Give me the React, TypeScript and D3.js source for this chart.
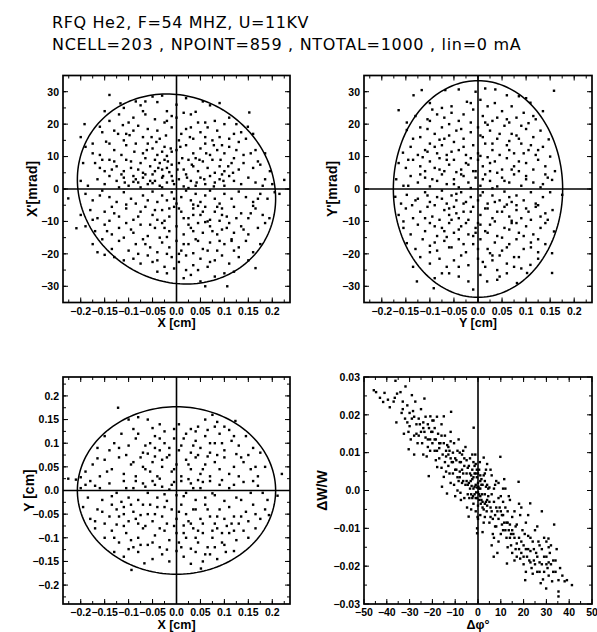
import React from "react";
import * as d3 from "d3";

// header
const title1 = "RFQ He2, F=54 MHZ, U=11KV";
const title2 = "NCELL=203 , NPOINT=859 , NTOTAL=1000 , lin=0 mA";

// tick values / labels
const cmTicks = [-0.2, -0.15, -0.1, -0.05, 0, 0.05, 0.1, 0.15, 0.2];
const cmLabels = ["−0.2", "−0.15", "−0.1", "−0.05", "0.0", "0.05", "0.1", "0.15", "0.2"];
const mradTicks = [-30, -20, -10, 0, 10, 20, 30];
const mradLabels = ["−30", "−20", "−10", "0", "10", "20", "30"];
const phaseTicks = [-50, -40, -30, -20, -10, 0, 10, 20, 30, 40, 50];
const phaseLabels = ["−50", "−40", "−30", "−20", "−10", "0", "10", "20", "30", "40", "50"];
const dwTicks = [-0.03, -0.02, -0.01, 0, 0.01, 0.02, 0.03];
const dwLabels = ["−0.03", "−0.02", "−0.01", "0.0", "0.01", "0.02", "0.03"];

// emittance ellipses: half-width, half-height, correlation
const xxpEllipse = { a: 0.207, b: 29.3, r: -0.1 };
const yypEllipse = { a: 0.176, b: 33.4, r: 0 };
const xyEllipse = { a: 0.207, b: 0.177, r: 0 };

// X - X' (cm, mrad)
const xxpPoints: [number, number][] = [
  [-0.14, 29], [-0.05, 28.5], [-0.03, 28.8], [-0.04, 26.8], [-0.065, 27], [0.07, 25.8], [0.04, 23.8], [0.015, 23.5],
  [-0.117, 26.4], [-0.075, 25.8], [0.09, 26.5], [0.055, 27],
  [-0.07, 24], [-0.065, 23], [-0.01, 22.5], [-0.02, 21], [0, 22], [-0.025, 20.5], [0.03, 23], [0.08, 21], [0.1, 20],
  [0.125, 20], [0.152, 23.6], [-0.1, 20.5], [-0.112, 19.7], [-0.192, 20], [-0.16, 19.2], [-0.14, 21], [-0.12, 23],
  [-0.15, 24], [0.06, 20.5], [0.11, 22], [-0.045, 21.5], [-0.09, 22],
  [-0.2, 16], [-0.13, 18], [-0.122, 17], [-0.098, 16.6], [-0.09, 18], [-0.06, 18.5], [-0.035, 15.5], [-0.01, 19],
  [0.01, 17], [0.02, 18.5], [0.05, 17.5], [0.065, 19], [0.09, 16], [0.12, 17], [0.149, 19.2], [0.145, 15.5], [0.16, 17],
  [-0.155, 17.5], [-0.07, 16], [0.035, 15.5], [0.075, 15], [-0.11, 15], [0.13, 14.5], [0.005, 15], [-0.04, 18],
  [-0.19, 13], [-0.175, 11], [-0.147, 14.6], [-0.13, 12], [-0.105, 13.5], [-0.085, 14], [-0.07, 11], [-0.05, 12.5],
  [-0.04, 10.5], [-0.025, 13], [-0.01, 11.5], [0, 12], [0.02, 13.5], [0.035, 11], [0.05, 12.5], [0.07, 10.5],
  [0.085, 12], [0.1, 11], [0.11, 13], [0.125, 12], [0.14, 10.5], [0.165, 12], [0.185, 11], [-0.16, 10.5],
  [-0.115, 10.5], [-0.06, 14], [0.06, 14], [0.095, 13.5], [-0.02, 10.2],
  [-0.195, 8], [-0.17, 8], [-0.16, 6.5], [-0.14, 9], [-0.125, 7], [-0.11, 5.5], [-0.095, 8.5], [-0.08, 6],
  [-0.065, 9.5], [-0.055, 7], [-0.045, 5.5], [-0.035, 8], [-0.025, 9], [-0.02, 6.5], [-0.01, 7.5], [0.005, 8],
  [0.015, 6], [0.025, 9], [0.035, 7], [0.045, 5.5], [0.055, 8.5], [0.065, 6.5], [0.075, 9], [0.09, 7], [0.1, 5.5],
  [0.115, 8], [0.13, 6], [0.14, 8], [0.16, 6.5], [0.175, 7.5], [0.195, 5.5], [-0.03, 6], [-0.015, 5.2], [0.04, 9.5],
  [0.08, 5], [-0.07, 5], [-0.15, 5.5], [0.12, 9.5],
  [-0.2, 2.5], [-0.185, 1], [-0.165, 3], [-0.15, 1.5], [-0.14, 4], [-0.125, 2.5], [-0.11, 3.5], [-0.1, 1], [-0.09, 4],
  [-0.08, 2], [-0.07, 3.5], [-0.06, 1.5], [-0.05, 4.5], [-0.045, 2.5], [-0.035, 1], [-0.03, 3.5], [-0.02, 2],
  [-0.01, 4], [-0.005, 1.5], [0.005, 3], [0.015, 0.8], [0.02, 4.5], [0.03, 2.5], [0.04, 1], [0.05, 3.5], [0.06, 1.5],
  [0.07, 4], [0.08, 2], [0.09, 3], [0.1, 1], [0.11, 4], [0.12, 2.5], [0.135, 1.5], [0.15, 3.5], [0.165, 2], [0.18, 1],
  [0.2, 1.5], [0.225, 2.8], [-0.075, 0.5], [0.025, 0.3], [-0.12, 0.5], [0.095, 4.5],
  [-0.226, -2.9], [-0.19, -1.5], [-0.175, -3.5], [-0.155, -0.5], [-0.14, -2.5], [-0.125, -4], [-0.11, -1],
  [-0.095, -3], [-0.085, -4.5], [-0.07, -2], [-0.06, -3.5], [-0.05, -0.8], [-0.04, -4], [-0.03, -2], [-0.02, -3.5],
  [-0.01, -1], [0, -4.5], [0.01, -2.5], [0.02, -0.5], [0.03, -3.5], [0.04, -1.5], [0.05, -4], [0.06, -2], [0.07, -0.5],
  [0.08, -3], [0.09, -4.5], [0.1, -1.5], [0.115, -3], [0.13, -0.8], [0.145, -2.5], [0.16, -4], [0.175, -1.5],
  [0.19, -3], [0.205, -1], [0.215, -1.5], [-0.105, -4.8], [0.035, -4.8],
  [-0.2, -8], [-0.18, -6.5], [-0.165, -9], [-0.15, -7], [-0.135, -5.5], [-0.12, -8.5], [-0.105, -6], [-0.09, -9.5],
  [-0.075, -7], [-0.065, -5.5], [-0.05, -8], [-0.04, -9.5], [-0.03, -6.5], [-0.015, -8.5], [-0.005, -5.5], [0.01, -7],
  [0.025, -9], [0.035, -6], [0.05, -8], [0.06, -5.5], [0.07, -9.5], [0.08, -7], [0.095, -6], [0.105, -8.5],
  [0.12, -5.5], [0.135, -7.5], [0.15, -9], [0.165, -6], [0.18, -8], [0.194, -9], [0.16, -5.2], [-0.025, -9.8],
  [0.045, -5.2], [-0.14, -9.8], [0.09, -9.8],
  [-0.209, -12.1], [-0.19, -11.5], [-0.17, -13], [-0.15, -11], [-0.135, -14], [-0.12, -12], [-0.105, -10.5],
  [-0.09, -13.5], [-0.075, -11], [-0.06, -14.5], [-0.045, -12], [-0.03, -10.5], [-0.015, -13], [0, -11.5],
  [0.015, -14], [0.03, -12], [0.045, -10.5], [0.055, -13.5], [0.07, -11.5], [0.085, -14], [0.095, -12.5],
  [0.11, -10.5], [0.12, -13.5], [0.135, -11.5], [0.15, -14], [0.17, -12], [0.185, -10.5], [-0.02, -14.8], [0.06, -10.2],
  [-0.175, -17], [-0.155, -15.5], [-0.135, -18.5], [-0.12, -16], [-0.1, -19], [-0.085, -17], [-0.07, -15.5],
  [-0.055, -18], [-0.04, -19.5], [-0.03, -16.5], [-0.015, -18], [0, -16], [0.01, -19], [0.025, -17], [0.04, -15.5],
  [0.055, -18.5], [0.07, -16.5], [0.085, -19], [0.1, -17], [0.115, -15.5], [0.13, -18], [0.145, -16], [0.16, -19.5],
  [0.175, -17], [-0.165, -19.5], [0.035, -19.8], [-0.08, -20],
  [-0.13, -21], [-0.11, -22], [-0.09, -21.5], [-0.075, -23], [-0.06, -20.5], [-0.04, -22], [-0.025, -24], [-0.01, -21],
  [0.005, -22.5], [0.02, -20.5], [0.035, -23.5], [0.05, -21.5], [0.065, -24], [0.08, -22], [0.095, -20.5], [0.11, -23],
  [0.13, -21], [0.15, -22], [0.165, -24.4], [-0.15, -20.3], [0.045, -25], [-0.005, -24.5],
  [-0.02, -26], [0.015, -27.5], [0.03, -26.5], [0.06, -30], [0.106, -30], [0.08, -27], [0.1, -26], [0.05, -28.5],
  [0.12, -25.5], [-0.04, -25.5],
  [-0.095, 6.5], [-0.085, 3], [-0.075, 8], [-0.065, 4.5], [-0.055, 2.5], [-0.045, 9], [-0.038, 6.5], [-0.028, 4],
  [-0.018, 8.5], [-0.008, 2.5], [0.002, 6], [0.012, 9.5], [0.022, 3.5], [0.032, 7.5], [0.042, 2], [-0.105, 9],
  [-0.115, 4.5], [-0.13, 8.5], [-0.088, 11.5], [-0.062, 12], [-0.042, 14.5], [-0.022, 16.5], [-0.012, 12.5],
  [0.008, 13], [0.028, 16], [0.048, 9], [0.062, 11], [0.078, 13.5], [0.092, 9], [0.108, 7], [0.058, 3], [0.078, 0.8],
  [0.098, 2.5], [0.118, 5], [-0.03, 0.5], [-0.05, 1.8], [-0.09, 2.2], [-0.108, 2], [-0.135, 6], [-0.155, 9],
  [-0.005, -3], [0.005, -6], [0.015, -9], [0.025, -11], [0.035, -13], [0.045, -16], [0.055, -7], [0.065, -10],
  [0.075, -13], [0.085, -5.5], [0.095, -8], [0.105, -12], [0.115, -16], [0.125, -9], [0.14, -12.5], [0.155, -7.5],
  [0.17, -3], [0.035, -8], [0.015, -17], [0.005, -20], [0.065, -19], [0.09, -16], [0.12, -19], [-0.015, -6],
  [-0.025, -12], [-0.035, -15], [-0.045, -6.5], [-0.055, -11], [-0.065, -17], [-0.08, -8.5], [-0.095, -12.5],
  [-0.11, -15], [-0.13, -7.5], [-0.145, -13], [-0.16, -2], [-0.175, -9.5], [-0.02, -20], [0.02, -25], [0.07, -22.5],
  [-0.05, -22.5], [-0.03, 11.5], [-0.052, 16], [-0.08, 19.5], [-0.105, 17], [-0.14, 14], [-0.175, 14], [0.03, 19],
  [0.06, 16], [0.085, 18], [0.11, 15.5], [0.135, 17.5], [0.155, 11], [0.17, 8.5], [0.185, 3], [-0.02, 24], [0, 26],
  [0.045, 20.5], [-0.11, 25], [-0.085, 27], [0.02, 28],
];

// Y - Y' (cm, mrad)
const yypPoints: [number, number][] = [
  [-0.134, 28.9], [-0.117, 30.5], [-0.068, 30.5], [-0.04, 30.7], [0.015, 31], [0.036, 30.7], [0.06, 28.9], [0.085, 28.6],
  [0.109, 26.6], [0.158, 30.3], [-0.023, 26.9], [-0.015, 26.5], [-0.165, 24.3], [-0.1, 26.5], [0.005, 27.5], [0.02, 25.5],
  [0.07, 25.5], [-0.055, 25.5], [-0.005, 30], [0.1, 28],
  [-0.13, 22.5], [-0.105, 21.5], [-0.085, 23], [-0.07, 22], [-0.055, 23.5], [-0.04, 21], [-0.03, 23], [-0.015, 20.5],
  [0.01, 22.5], [0.03, 21], [0.05, 24], [0.065, 20.5], [0.08, 22], [0.095, 23.5], [0.12, 21.5], [0.135, 24],
  [-0.148, 20.5], [0.04, 22], [-0.095, 24.5], [0.105, 20.3],
  [-0.148, 18.2], [-0.12, 16], [-0.105, 18.5], [-0.09, 17], [-0.075, 19], [-0.06, 16.5], [-0.045, 18], [-0.03, 15.5],
  [-0.015, 17.5], [0, 19], [0.01, 16], [0.025, 18], [0.04, 15.5], [0.055, 19.5], [0.07, 17], [0.085, 15.5], [0.1, 18.5],
  [0.115, 16], [0.147, 15.3], [0.13, 18], [-0.135, 15.5], [0.02, 19.8], [-0.08, 15.2],
  [-0.156, 11.2], [-0.14, 13], [-0.125, 10.5], [-0.11, 12], [-0.1, 14], [-0.085, 11], [-0.075, 13.5], [-0.065, 10.5],
  [-0.05, 14.5], [-0.04, 12], [-0.025, 10.5], [-0.01, 13.5], [0, 11], [0.015, 14], [0.03, 12], [0.045, 10.5],
  [0.06, 13.5], [0.075, 11], [0.09, 14], [0.105, 12], [0.12, 10.5], [0.135, 13], [0.15, 10], [-0.115, 9.8],
  [0.005, 10.2], [0.065, 14.8],
  [-0.165, 8], [-0.15, 6.5], [-0.135, 9], [-0.12, 7], [-0.11, 5.5], [-0.1, 8.5], [-0.09, 6.5], [-0.08, 9.5], [-0.07, 5.5],
  [-0.06, 7.5], [-0.05, 9], [-0.035, 6], [-0.025, 8], [-0.01, 5.5], [0, 9], [0.01, 7], [0.025, 5.5], [0.035, 8.5],
  [0.05, 6], [0.06, 9.5], [0.075, 7], [0.085, 5.5], [0.1, 8], [0.115, 6], [0.125, 9], [0.14, 7], [0.16, 5.5],
  [-0.045, 5.2], [0.02, 9.8],
  [-0.17, 3], [-0.155, 1], [-0.14, 4], [-0.125, 2], [-0.11, 3.5], [-0.1, 0.8], [-0.085, 2.5], [-0.075, 4.5],
  [-0.065, 1.5], [-0.05, 3], [-0.04, 0.5], [-0.03, 4], [-0.02, 2], [-0.005, 3.5], [0.005, 1], [0.015, 4.5], [0.025, 2.5],
  [0.04, 0.8], [0.05, 3.5], [0.065, 2], [0.075, 4.5], [0.09, 1], [0.1, 3], [0.115, 2], [0.13, 0.5], [0.145, 3.5],
  [0.154, 2.8], [0.135, 1.5], [-0.015, 0.3], [0.03, 0.2],
  [-0.172, -2.4], [-0.148, -1.8], [-0.137, -5], [-0.125, -3], [-0.11, -1], [-0.1, -4], [-0.085, -2.5], [-0.075, -0.5],
  [-0.065, -4.5], [-0.055, -2], [-0.045, -3.5], [-0.035, -1], [-0.025, -4], [-0.015, -2.5], [0, -3.5], [0.01, -1],
  [0.02, -4.5], [0.03, -2], [0.045, -3.5], [0.055, -0.8], [0.07, -4], [0.08, -2], [0.095, -3.5], [0.11, -1],
  [0.12, -4.5], [0.135, -2.5], [0.15, -1], [0.175, -1.8], [-0.16, -4.5], [0.06, -4.8],
  [-0.165, -8], [-0.15, -6], [-0.135, -9], [-0.12, -7], [-0.105, -5.5], [-0.095, -8.5], [-0.08, -9.5], [-0.07, -6.5],
  [-0.06, -8], [-0.05, -5.5], [-0.04, -9], [-0.03, -7], [-0.02, -9.5], [-0.01, -5.5], [0.005, -8], [0.015, -6],
  [0.03, -9], [0.04, -7], [0.055, -5.5], [0.065, -8.5], [0.08, -6.5], [0.09, -9], [0.105, -7], [0.12, -5.5],
  [0.13, -8.5], [0.145, -9.5], [0.155, -6.5], [-0.045, -7.5], [0.07, -9.8],
  [-0.155, -12], [-0.14, -14], [-0.125, -11], [-0.11, -13], [-0.1, -10.5], [-0.085, -14.5], [-0.075, -12], [-0.06, -10.5],
  [-0.05, -13.5], [-0.035, -11.5], [-0.02, -14], [-0.005, -12], [0, -10.5], [0.015, -13], [0.025, -11], [0.04, -14.5],
  [0.055, -12], [0.07, -10.5], [0.085, -13.5], [0.1, -11.5], [0.115, -14], [0.13, -12], [0.158, -13.1], [0.14, -10.5],
  [-0.005, -13.5], [-0.065, -14.8],
  [-0.148, -16.7], [-0.13, -18.5], [-0.115, -15.5], [-0.1, -17.5], [-0.085, -19], [-0.07, -16], [-0.055, -18],
  [-0.04, -15.5], [-0.025, -19.5], [-0.01, -17], [0.005, -15.5], [0.02, -18.5], [0.035, -16.5], [0.05, -19], [0.065, -17],
  [0.08, -15.5], [0.095, -18.5], [0.11, -16.5], [0.125, -19.5], [0.154, -19.8], [0.14, -17], [0.025, -19.8],
  [-0.12, -21], [-0.1, -23], [-0.08, -21.5], [-0.065, -24], [-0.05, -22], [-0.035, -20.5], [-0.02, -23.5], [0, -21.5],
  [0.015, -24], [0.03, -22], [0.045, -20.5], [0.06, -23], [0.075, -21], [0.09, -24.5], [0.109, -23.4], [0.125, -21.5],
  [-0.135, -24], [0.154, -25.9], [0.102, -25.9],
  [-0.092, -30.6], [-0.127, -28.5], [-0.04, -27], [-0.02, -28.5], [0.019, -28.5], [0.04, -28], [0.081, -29], [-0.06, -26],
  [0.005, -26.5], [0.06, -26], [-0.09, -27.5], [-0.01, -31],
  [-0.095, 3], [-0.08, 6], [-0.065, 9], [-0.05, 1.5], [-0.035, 4.5], [-0.02, 7.5], [-0.005, 5.5], [0.01, 3], [0.025, 8],
  [0.04, 5], [0.055, 2.5], [0.07, 6], [0.085, 8.5], [0.1, 4], [-0.105, 11.5], [-0.09, 13], [-0.07, 15.5], [-0.055, 11.5],
  [-0.03, 13], [-0.015, 9.5], [0.005, 16.5], [0.03, 14], [0.045, 17], [0.065, 12], [0.08, 16.5], [0.095, 11],
  [0.11, 13.5], [-0.12, 19], [-0.1, 21], [-0.06, 20], [-0.035, 18.5], [0.015, 20.5], [0.06, 21.5], [0.09, 19.5],
  [-0.12, 4.5], [-0.13, -3.5], [-0.105, -2], [-0.09, -5], [-0.075, -3], [-0.06, -6], [-0.045, -1.5], [-0.03, -4.5],
  [-0.015, -7], [0.005, -2], [0.02, -6], [0.035, -4], [0.05, -7], [0.065, -2.5], [0.08, -5], [0.1, -6], [-0.11, -9],
  [-0.09, -11.5], [-0.07, -13], [-0.055, -9.5], [-0.04, -12.5], [-0.025, -10.5], [-0.01, -14.5], [0.005, -11],
  [0.02, -13.5], [0.035, -10], [0.05, -15], [0.065, -12.5], [0.08, -10.5], [0.095, -14.5], [0.11, -9.5], [0.125, -15.5],
  [-0.09, -16.5], [-0.06, -18], [-0.03, -17], [0, -18.5], [0.03, -20.5], [0.06, -18], [0.085, -21], [-0.1, -19.5],
  [-0.04, -24], [0.01, -22.5], [0.04, -25], [0.075, -24], [0.11, -18], [0.125, -5], [0.14, -7.5], [0.14, 4.5],
  [0.125, 12], [-0.145, 9], [-0.155, -10], [-0.145, 1], [0.115, 22.5], [-0.075, 25], [-0.01, 24.5], [0.035, 26.5],
  [0.045, -27], [-0.075, -26],
];

// X - Y (cm, cm)
const xyPoints: [number, number][] = [
  [-0.122, 0.175], [-0.08, 0.155], [-0.06, 0.15], [-0.035, 0.14], [-0.025, 0.125], [-0.005, 0.13], [0.03, 0.13],
  [0.045, 0.135], [0.06, 0.15], [0.075, 0.16], [0.085, 0.145], [0.1, 0.135], [0.123, 0.147], [-0.1, 0.15],
  [-0.05, 0.132], [0.065, 0.128], [0.11, 0.128], [-0.09, 0.13],
  [-0.15, 0.115], [-0.13, 0.1], [-0.115, 0.12], [-0.1, 0.095], [-0.085, 0.11], [-0.07, 0.08], [-0.055, 0.1],
  [-0.045, 0.115], [-0.035, 0.085], [-0.025, 0.1], [-0.015, 0.075], [-0.005, 0.11], [0.01, 0.095], [0.02, 0.12],
  [0.03, 0.08], [0.04, 0.105], [0.05, 0.09], [0.06, 0.115], [0.07, 0.08], [0.08, 0.1], [0.09, 0.12], [0.1, 0.085],
  [0.115, 0.105], [0.13, 0.095], [0.145, 0.115], [0.16, 0.09], [-0.14, 0.085], [-0.165, 0.09], [0.175, 0.08],
  [-0.06, 0.078], [0.005, 0.085], [0.125, 0.077],
  [-0.19, 0.04], [-0.175, 0.055], [-0.16, 0.03], [-0.15, 0.065], [-0.135, 0.045], [-0.12, 0.07], [-0.11, 0.035],
  [-0.095, 0.055], [-0.085, 0.03], [-0.075, 0.07], [-0.065, 0.045], [-0.05, 0.06], [-0.04, 0.03], [-0.03, 0.05],
  [-0.02, 0.07], [-0.01, 0.04], [0, 0.055], [0.01, 0.03], [0.02, 0.065], [0.03, 0.045], [0.04, 0.07], [0.05, 0.035],
  [0.06, 0.055], [0.07, 0.03], [0.08, 0.06], [0.09, 0.045], [0.1, 0.07], [0.11, 0.035], [0.12, 0.05], [0.13, 0.03],
  [0.14, 0.06], [0.155, 0.045], [0.17, 0.03], [0.185, 0.05], [0.22, 0.035], [-0.2, 0.028], [-0.045, 0.072],
  [0.065, 0.072],
  [-0.226, 0.025], [-0.21, 0.023], [-0.2, 0.005], [-0.185, -0.015], [-0.17, 0.01], [-0.155, -0.02], [-0.14, 0.015],
  [-0.125, -0.005], [-0.11, 0.02], [-0.1, -0.015], [-0.09, 0.005], [-0.08, -0.02], [-0.07, 0.015], [-0.06, -0.005],
  [-0.05, 0.02], [-0.04, -0.015], [-0.03, 0.008], [-0.02, -0.022], [-0.01, 0.012], [0, -0.01], [0.01, 0.02],
  [0.02, -0.005], [0.03, 0.015], [0.04, -0.02], [0.05, 0.005], [0.06, -0.015], [0.07, 0.02], [0.08, -0.01],
  [0.09, 0.012], [0.1, -0.022], [0.11, 0.005], [0.125, -0.015], [0.14, 0.018], [0.155, -0.005], [0.17, 0.01],
  [0.19, -0.02], [0.211, -0.011], [-0.015, 0.002], [0.045, 0.022], [-0.115, -0.024],
  [-0.195, -0.035], [-0.18, -0.06], [-0.165, -0.04], [-0.15, -0.07], [-0.135, -0.03], [-0.12, -0.055], [-0.11, -0.035],
  [-0.1, -0.065], [-0.09, -0.045], [-0.08, -0.07], [-0.07, -0.03], [-0.06, -0.05], [-0.05, -0.065], [-0.04, -0.035],
  [-0.03, -0.055], [-0.02, -0.07], [-0.01, -0.04], [0, -0.06], [0.01, -0.03], [0.02, -0.05], [0.03, -0.07],
  [0.04, -0.04], [0.05, -0.06], [0.06, -0.03], [0.07, -0.055], [0.08, -0.07], [0.09, -0.04], [0.1, -0.06],
  [0.11, -0.035], [0.12, -0.055], [0.13, -0.07], [0.145, -0.045], [0.16, -0.03], [0.175, -0.06], [0.193, -0.052],
  [0.185, -0.04], [-0.125, -0.072], [0.015, -0.074], [-0.075, -0.052],
  [-0.17, -0.08], [-0.15, -0.1], [-0.135, -0.085], [-0.12, -0.11], [-0.105, -0.09], [-0.09, -0.12], [-0.08, -0.1],
  [-0.07, -0.08], [-0.06, -0.115], [-0.045, -0.095], [-0.035, -0.12], [-0.025, -0.085], [-0.015, -0.105], [0, -0.09],
  [0.01, -0.12], [0.02, -0.1], [0.035, -0.08], [0.045, -0.11], [0.055, -0.09], [0.065, -0.12], [0.075, -0.1],
  [0.085, -0.08], [0.095, -0.11], [0.11, -0.09], [0.125, -0.105], [0.14, -0.085], [0.15, -0.1], [0.165, -0.08],
  [-0.1, -0.124], [0.03, -0.123],
  [-0.094, -0.168], [-0.067, -0.154], [-0.11, -0.14], [-0.08, -0.13], [-0.05, -0.145], [-0.03, -0.135], [-0.015, -0.15],
  [0.015, -0.14], [0.03, -0.155], [0.051, -0.165], [0.055, -0.15], [0.07, -0.135], [0.085, -0.145], [0.103, -0.13],
  [0.12, -0.128], [-0.13, -0.13], [0, -0.128], [0.04, -0.13],
  [-0.09, 0.06], [-0.07, 0.05], [-0.055, 0.04], [-0.045, 0.09], [-0.03, 0.065], [-0.015, 0.09], [-0.005, 0.045],
  [0.015, 0.11], [0.025, 0.055], [0.035, 0.095], [0.045, 0.075], [0.055, 0.045], [0.07, 0.1], [0.085, 0.075],
  [0.095, 0.1], [-0.12, 0.09], [-0.105, 0.075], [-0.08, 0.12], [-0.065, 0.095], [-0.035, 0.11], [0.005, 0.14],
  [0.04, 0.125], [0.08, 0.135], [0.12, 0.115], [0.135, 0.07], [0.15, 0.075], [0.165, 0.05], [-0.145, 0.04],
  [-0.165, 0.068], [-0.18, 0.02],
  [-0.095, -0.03], [-0.085, -0.06], [-0.065, -0.075], [-0.055, -0.03], [-0.045, -0.05], [-0.035, -0.08],
  [-0.025, -0.035], [-0.005, -0.075], [0.005, -0.045], [0.015, -0.09], [0.025, -0.065], [0.035, -0.04], [0.045, -0.085],
  [0.055, -0.07], [0.065, -0.04], [0.075, -0.085], [0.085, -0.055], [0.095, -0.09], [0.105, -0.075], [0.12, -0.085],
  [0.135, -0.055], [0.15, -0.065], [0.165, -0.05], [-0.11, -0.05], [-0.125, -0.04], [-0.14, -0.055], [-0.155, -0.045],
  [-0.17, -0.065], [-0.13, -0.1], [-0.11, -0.075], [-0.095, -0.105], [-0.075, -0.115], [-0.05, -0.11], [-0.02, -0.125],
  [0.005, -0.11], [0.04, -0.1], [0.06, -0.135], [0.08, -0.12], [0.1, -0.115], [0.115, -0.07],
  [-0.065, 0.008], [-0.045, 0.012], [-0.025, -0.008], [-0.005, 0.018], [0.015, -0.012], [0.035, 0.005], [0.055, 0.018],
  [0.075, -0.006], [0.095, 0.022], [-0.085, 0.02], [-0.105, 0.005], [-0.135, -0.012], [0.12, 0.012], [0.135, -0.02],
  [0.16, 0.02], [-0.16, 0.005], [-0.19, 0.012], [0.18, -0.005], [-0.035, 0.025], [0.025, 0.024],
];

// dPhi - dW/W (deg, -)
const phwPoints: [number, number][] = [
  [-45.7, 0.0265], [-44.7, 0.026], [-41, 0.0258], [-41.6, 0.0234], [-38.7, 0.022], [-36.2, 0.029], [-35.8, 0.018],
  [-37, 0.0235], [-39.5, 0.024], [-36.5, 0.0245], [-35.5, 0.0256], [-43, 0.0245],
  [-34, 0.026], [-31.8, 0.0275], [-33, 0.0215], [-30.4, 0.0109], [-29, 0.0252], [-32, 0.019], [-30, 0.017], [-28, 0.0195],
  [-27, 0.015], [-26, 0.019], [-31, 0.0225], [-33.5, 0.0205], [-29.5, 0.0135], [-28.5, 0.021], [-26.5, 0.0125],
  [-25.5, 0.0175], [-27.5, 0.0235], [-30.5, 0.0155], [-25, 0.0215], [-28, 0.0095], [-32.5, 0.015], [-26, 0.0145],
  [-23.5, 0.0243], [-24, 0.018], [-23, 0.0195], [-22, 0.0135], [-21.5, 0.0165], [-20.9, 0.0196], [-20, 0.0125],
  [-19.5, 0.0185], [-19, 0.0105], [-18, 0.0195], [-17.5, 0.015], [-17, 0.0085], [-16.5, 0.0125], [-16, 0.0175],
  [-15.5, 0.0095], [-15, 0.0196], [-24.5, 0.0125], [-22.5, 0.009], [-21, 0.0105], [-20.5, 0.0155], [-18.5, 0.0135],
  [-17.9, 0.0062], [-21.6, 0.0038], [-15.8, 0.001], [-15, 0.0036], [-23.5, 0.0155], [-19, 0.0165], [-16, 0.006],
  [-22, 0.0115], [-18.5, 0.008], [-24, 0.0095], [-20, 0.0185], [-17, 0.0112],
  [-14.5, 0.0145], [-14, 0.009], [-13.5, 0.012], [-13, 0.0065], [-12.5, 0.0105], [-11.8, 0.0208], [-12, 0.0155],
  [-11.5, 0.0075], [-11, 0.0045], [-10.5, 0.0125], [-10, 0.0085], [-9.5, 0.0055], [-9, 0.0105], [-8.5, 0.0135],
  [-8, 0.0035], [-7.7, -0.0006], [-7.5, 0.0075], [-7, 0.0095], [-6.5, 0.0025], [-6, 0.0065], [-5.5, 0.0115],
  [-5, 0.0045], [-13.6, -0.0008], [-12, 0.002], [-10.5, 0.0015], [-9, 0], [-6, -0.002], [-14, 0.005], [-8, 0.0075],
  [-11, 0.01], [-7, 0.0055], [-5.5, 0.0015], [-9.5, 0.008], [-13, 0.0095], [-6.5, 0.0105], [-12.5, 0.0045],
  [-10, -0.0015], [-8.5, 0.0025], [-5, 0.008], [-7.5, -0.0025], [-14.5, 0.0075],
  [-4.5, 0.006], [-4, 0.002], [-3.5, 0.0045], [-3, -0.001], [-2.5, 0.003], [-2, 0.0075], [-1.9, 0.0166], [-1.5, 0.001],
  [-1, 0.0045], [-0.5, -0.002], [0, 0.002], [0.5, 0.0005], [1, -0.0015], [1.5, 0.003], [2, -0.003], [2.5, 0.0087],
  [3, -0.001], [3.5, 0.001], [4, -0.004], [4.5, 0.0005], [-4.1, -0.0069], [-0.4, -0.01], [-0.4, -0.0113], [-3, -0.005],
  [-2, -0.0035], [-1, -0.0055], [0, -0.004], [1, -0.0065], [2, -0.0045], [3, -0.007], [4, -0.0025], [-4.5, 0.0015],
  [-3.5, 0.0085], [-2.5, 0.0055], [-1.5, 0.0065], [-0.5, 0.0035], [0.5, 0.0055], [1.5, 0.0015], [2.5, 0.004],
  [3.5, 0.0055], [4.5, -0.0015], [-2, 0.0005], [-1, 0.0015], [0, -0.0005], [1, 0.0005], [-1.5, -0.001], [0.5, -0.0025],
  [-0.5, 0.0008], [0.2, 0.001], [-0.8, -0.0005], [-2.8, 0.0012], [1.8, -0.001], [3, 0.0025], [-3.8, -0.002], [4, 0.007],
  [5, 0.0008], [-4.8, -0.0045], [2.5, -0.0085], [-1.2, 0.0095], [0.8, 0.0075], [3.8, -0.0055], [-3.2, 0.0025],
  [-0.2, -0.007], [1.2, -0.0035], [-2.2, -0.0015],
  [5.5, -0.0045], [6, -0.001], [6.5, -0.0075], [6.9, -0.0175], [7, -0.003], [7.5, 0.0015], [8, -0.0095], [8.5, -0.0055],
  [9, -0.002], [9.8, 0.0089], [10, -0.0115], [10.5, -0.0065], [11, -0.003], [11.5, -0.0085], [12, 0.0005],
  [12.7, -0.0193], [12.5, -0.0125], [13, -0.0055], [13.5, -0.0105], [14, -0.0025], [14.5, -0.0145], [15, -0.007],
  [5, -0.0085], [6, 0.004], [7, -0.0125], [8, 0.0025], [9, -0.0135], [10, -0.0015], [11, -0.0105], [12, -0.0045],
  [13, -0.015], [14, -0.009], [5.5, 0.0055], [8.5, -0.0165], [11.5, 0.003], [7.5, -0.0065], [10.5, -0.009],
  [13.5, -0.0015], [9.5, -0.0045], [6.5, -0.0115], [12.5, -0.0085], [14.5, -0.0115],
  [15.5, -0.0115], [16, -0.0055], [16.5, -0.0155], [17, -0.009], [17.8, 0.0023], [18, -0.0125], [18.5, -0.0065],
  [19, -0.0165], [19.5, -0.0105], [20, -0.0145], [20.7, -0.0237], [21, -0.0085], [21.5, -0.0175], [22, -0.012],
  [22.9, -0.0034], [23, -0.016], [23.5, -0.0205], [24, -0.0135], [24.5, -0.0185], [25, -0.0105], [16, -0.0185],
  [18, -0.0035], [20, -0.0195], [22, -0.0065], [24, -0.022], [17, -0.014], [19, -0.0045], [21, -0.0215], [23, -0.0125],
  [15, -0.0165], [18.5, -0.018], [20.5, -0.0115], [22.5, -0.0185], [24.5, -0.0155], [16.5, -0.0095],
  [25.5, -0.0165], [26, -0.0215], [26.5, -0.0135], [27, -0.019], [28, -0.0055], [28, -0.0155], [28.5, -0.0235],
  [29, -0.0175], [29.9, -0.0259], [30, -0.0135], [30.5, -0.0205], [30.9, -0.0127], [31, -0.0225], [31.5, -0.0165],
  [32, -0.0195], [32.5, -0.024], [33, -0.0185], [33.4, -0.009], [34, -0.0215], [34.5, -0.0155], [35.3, -0.0237],
  [35.3, -0.0267], [35.3, -0.028], [36, -0.0205], [37, -0.0225], [38, -0.024], [39, -0.0237], [41.2, -0.025],
  [26, -0.0095], [27.5, -0.0245], [29, -0.0125], [32, -0.0145], [34, -0.0185], [30, -0.0175], [27, -0.0145], [31, -0.015],
  [-8, 0.005], [-7, 0.002], [-6, 0.0085], [-5, 0.0025], [-4, 0.0065], [-3.5, 0.0005], [-3, 0.004], [-2.5, -0.002],
  [-2, 0.0035], [-1.5, 0.0045], [-1, -0.002], [-0.5, 0.0055], [0, 0.0045], [0.5, -0.001], [1, 0.0025], [1.5, -0.0025],
  [2, 0.0015], [2.5, -0.005], [3, 0.0045], [3.5, -0.003], [4, 0.0015], [5, -0.003], [6, -0.0055], [7, 0.0005],
  [8, -0.0045], [9, -0.0075], [10, -0.0055], [11, -0.0065], [12, -0.0105], [13, -0.0085], [14, -0.0125], [15, -0.0105],
  [16, -0.0125], [17, -0.0175], [18, -0.0155], [19, -0.0135], [20, -0.0175], [21, -0.0155], [22, -0.0155],
  [23, -0.019], [25, -0.0195], [26, -0.0175], [27, -0.0215], [28, -0.0195], [29, -0.0215], [30, -0.0195], [31, -0.019],
  [33, -0.0215], [-10, 0.0055], [-11, 0.0075], [-12, 0.0085], [-13, 0.0115], [-14, 0.0105], [-15, 0.0125],
  [-16, 0.0145], [-17, 0.0125], [-18, 0.0105], [-19, 0.0135], [-20, 0.0155], [-21, 0.0135], [-22, 0.0175],
  [-23, 0.014], [-24, 0.0165], [-25, 0.0155], [-27, 0.0175], [-28, 0.0145], [-29, 0.019], [-30, 0.0205], [-31, 0.018],
  [-33, 0.0235], [-9, 0.0035], [-6.5, 0.0045], [-4.5, -0.001], [-1, 0.007], [1, 0.004], [3, -0.0035], [5.5, -0.007],
  [7.5, -0.0095], [-2.5, 0.0095], [0, -0.0075], [6, -0.0145], [2, -0.011], [9, 0.002], [11, 0.0005], [-12, 0.013],
  [-8, 0.01],
];

const FONT = "'Liberation Sans', Arial, Helvetica, sans-serif";
const TITLE_FONT = "'DejaVu Sans', Verdana, sans-serif";

type Box = { l: number; r: number; t: number; b: number };

function Panel(props: {
  box: Box;
  xDomain: [number, number];
  yDomain: [number, number];
  xTicks: number[];
  xLabels: string[];
  xMinor: number;
  yTicks: number[];
  yLabels: string[];
  yMinor: number;
  points: [number, number][];
  ellipse?: { a: number; b: number; r: number };
  hLine: boolean;
  xTitle: string;
  yTitle: string;
  yTitleOff: number;
}) {
  const { box, points } = props;
  const sx = d3.scaleLinear().domain(props.xDomain).range([box.l, box.r]);
  const sy = d3.scaleLinear().domain(props.yDomain).range([box.b, box.t]);

  const minorX = d3
    .range(props.xTicks[0] - props.xMinor * 4, props.xTicks[props.xTicks.length - 1] + props.xMinor * 4 + 1e-9, props.xMinor)
    .filter((v) => v > props.xDomain[0] && v < props.xDomain[1]);
  const minorY = d3
    .range(props.yTicks[0] - props.yMinor * 4, props.yTicks[props.yTicks.length - 1] + props.yMinor * 4 + 1e-9, props.yMinor)
    .filter((v) => v > props.yDomain[0] && v < props.yDomain[1]);

  let ellipsePath: string | null = null;
  if (props.ellipse) {
    const { a, b, r } = props.ellipse;
    const phi = Math.acos(r);
    const pts = d3.range(0, 361, 2).map((deg) => {
      const t = (deg * Math.PI) / 180;
      return [sx(a * Math.cos(t)), sy(b * Math.cos(t - phi))] as [number, number];
    });
    ellipsePath = d3.line()(pts);
  }

  const major = 5;
  const minor = 3;
  const midY = (box.t + box.b) / 2;

  return (
    <g>
      <g stroke="#000" strokeWidth={1}>
        {minorX.map((v, i) => (
          <g key={"mx" + i}>
            <line x1={sx(v)} x2={sx(v)} y1={box.b} y2={box.b - minor} />
            <line x1={sx(v)} x2={sx(v)} y1={box.t} y2={box.t + minor} />
          </g>
        ))}
        {minorY.map((v, i) => (
          <g key={"my" + i}>
            <line x1={box.l} x2={box.l + minor} y1={sy(v)} y2={sy(v)} />
            <line x1={box.r} x2={box.r - minor} y1={sy(v)} y2={sy(v)} />
          </g>
        ))}
        {props.xTicks.map((v, i) => (
          <g key={"Mx" + i}>
            <line x1={sx(v)} x2={sx(v)} y1={box.b} y2={box.b - major} />
            <line x1={sx(v)} x2={sx(v)} y1={box.t} y2={box.t + major} />
          </g>
        ))}
        {props.yTicks.map((v, i) => (
          <g key={"My" + i}>
            <line x1={box.l} x2={box.l + major} y1={sy(v)} y2={sy(v)} />
            <line x1={box.r} x2={box.r - major} y1={sy(v)} y2={sy(v)} />
          </g>
        ))}
      </g>

      <g fill="#000">
        {points.map((p, i) => (
          <rect key={i} x={sx(p[0]) - 1.2} y={sy(p[1]) - 1.2} width={2.4} height={2.4} />
        ))}
      </g>

      {ellipsePath && <path d={ellipsePath} fill="none" stroke="#000" strokeWidth={1.5} />}

      <line x1={sx(0)} x2={sx(0)} y1={box.t} y2={box.b} stroke="#000" strokeWidth={1.6} />
      {props.hLine && <line x1={box.l} x2={box.r} y1={sy(0)} y2={sy(0)} stroke="#000" strokeWidth={1.6} />}

      <rect x={box.l} y={box.t} width={box.r - box.l} height={box.b - box.t} fill="none" stroke="#000" strokeWidth={1.7} />

      <g fontFamily={FONT} fontSize={10.5} fontWeight="bold" fill="#000">
        {props.xTicks.map((v, i) => (
          <text key={"lx" + i} x={sx(v)} y={box.b + 12} textAnchor="middle">
            {props.xLabels[i]}
          </text>
        ))}
        {props.yTicks.map((v, i) => (
          <text key={"ly" + i} x={box.l - 4} y={sy(v) + 3.8} textAnchor="end">
            {props.yLabels[i]}
          </text>
        ))}
      </g>

      <text x={(box.l + box.r) / 2} y={box.b + 24.5} textAnchor="middle" fontFamily={FONT} fontSize={12.5} fontWeight="bold">
        {props.xTitle}
      </text>
      <text
        transform={`translate(${box.l - props.yTitleOff},${midY}) rotate(-90)`}
        textAnchor="middle"
        dominantBaseline="central"
        fontFamily={FONT}
        fontSize={14}
        fontWeight="bold"
      >
        {props.yTitle}
      </text>
    </g>
  );
}

export default function App() {
  const p1: Box = { l: 63, r: 290, t: 75.5, b: 302.5 };
  const p2: Box = { l: 364, r: 592, t: 75.5, b: 302.5 };
  const p3: Box = { l: 63, r: 290, t: 377, b: 604 };
  const p4: Box = { l: 364, r: 592, t: 377, b: 604 };
  const cmDom: [number, number] = [-0.237, 0.237];

  return (
    <svg
      width={597}
      height={632}
      viewBox="0 0 597 632"
      style={{ position: "absolute", left: 0, top: 0, background: "#fff" }}
    >
      <rect width={597} height={632} fill="#fff" />
      <text x={52} y={28} fontFamily={TITLE_FONT} fontSize={16} letterSpacing={0.6}>
        {title1}
      </text>
      <text x={52} y={50} fontFamily={TITLE_FONT} fontSize={16} letterSpacing={0.7}>
        {title2}
      </text>

      <Panel
        box={p1}
        xDomain={cmDom}
        yDomain={[-35, 35]}
        xTicks={cmTicks}
        xLabels={cmLabels}
        xMinor={0.025}
        yTicks={mradTicks}
        yLabels={mradLabels}
        yMinor={5}
        points={xxpPoints}
        ellipse={xxpEllipse}
        hLine={true}
        xTitle="X [cm]"
        yTitle="X'[mrad]"
        yTitleOff={31}
      />
      <Panel
        box={p2}
        xDomain={cmDom}
        yDomain={[-35, 35]}
        xTicks={cmTicks}
        xLabels={cmLabels}
        xMinor={0.025}
        yTicks={mradTicks}
        yLabels={mradLabels}
        yMinor={5}
        points={yypPoints}
        ellipse={yypEllipse}
        hLine={true}
        xTitle="Y [cm]"
        yTitle="Y'[mrad]"
        yTitleOff={32}
      />
      <Panel
        box={p3}
        xDomain={cmDom}
        yDomain={[-0.24, 0.24]}
        xTicks={cmTicks}
        xLabels={cmLabels}
        xMinor={0.025}
        yTicks={cmTicks}
        yLabels={cmLabels}
        yMinor={0.025}
        points={xyPoints}
        ellipse={xyEllipse}
        hLine={true}
        xTitle="X [cm]"
        yTitle="Y [cm]"
        yTitleOff={34}
      />
      <Panel
        box={p4}
        xDomain={[-50, 50]}
        yDomain={[-0.03, 0.03]}
        xTicks={phaseTicks}
        xLabels={phaseLabels}
        xMinor={5}
        yTicks={dwTicks}
        yLabels={dwLabels}
        yMinor={0.005}
        points={phwPoints}
        hLine={false}
        xTitle="Δφ°"
        yTitle="ΔW/W"
        yTitleOff={42}
      />
    </svg>
  );
}
